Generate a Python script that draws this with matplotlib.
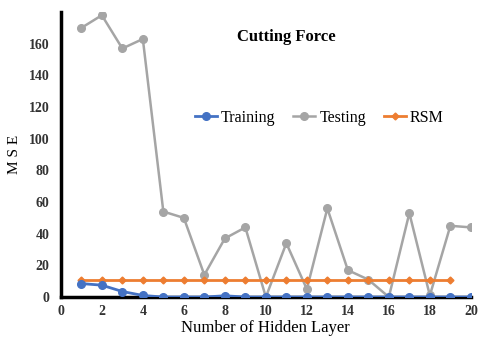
import matplotlib
matplotlib.use("Agg")
import matplotlib.pyplot as plt

plt.rcParams['font.family'] = ['Liberation Serif', 'DejaVu Serif']

# data
layers = list(range(1, 21))
training = [8.5, 7.5, 3.5, 1, 0, 0, 0, 0.8, 0, 0, 0, 0, 0, 0, 0, 0, 0, 0, 0, 0]
testing = [170, 178, 157, 163, 54, 50, 14, 37, 44, 0, 34, 5, 56, 17, 11, 0, 53, 1, 45, 44]
rsm_layers = list(range(1, 20))
rsm = [11] * 19

fig, ax = plt.subplots(figsize=(4.79, 3.45), dpi=100)
fig.subplots_adjust(left=0.127, right=0.983, bottom=0.139, top=0.965)

ax.plot(layers, training, '-o', color='#4472C4', lw=2, ms=5.5, label='Training', zorder=3)
ax.plot(layers, testing, '-o', color='#A5A5A5', lw=1.8, ms=5.5, label='Testing', zorder=2)
ax.plot(rsm_layers, rsm, '-D', color='#ED7D31', lw=2, ms=3.5, label='RSM', zorder=2)

ax.set_xlim(0, 20)
ax.set_ylim(0, 180)
ax.set_xticks(range(0, 21, 2))
ax.set_yticks(range(0, 161, 20))
ax.tick_params(length=0, labelsize=10)
ax.tick_params(axis='y', pad=8)
ax.tick_params(axis='x', pad=6)
for lab in ax.get_xticklabels() + ax.get_yticklabels():
    lab.set_fontweight('bold')
    lab.set_color('#333333')

for s in ['top', 'right']:
    ax.spines[s].set_visible(False)
ax.spines['left'].set_linewidth(2.5)
ax.spines['bottom'].set_linewidth(2.5)

ax.set_xlabel('Number of Hidden Layer', fontsize=12, labelpad=1)
ax.set_ylabel('M S E', fontsize=11, labelpad=6)
ax.text(0.55, 0.90, 'Cutting Force', transform=ax.transAxes, ha='center',
        fontsize=12, fontweight='bold')
ax.legend(loc='center', bbox_to_anchor=(0.63, 0.63), ncol=3, frameon=False,
          fontsize=11.5, handlelength=1.4, columnspacing=1.1, handletextpad=0.25)

fig.savefig('out.png', dpi=100)
